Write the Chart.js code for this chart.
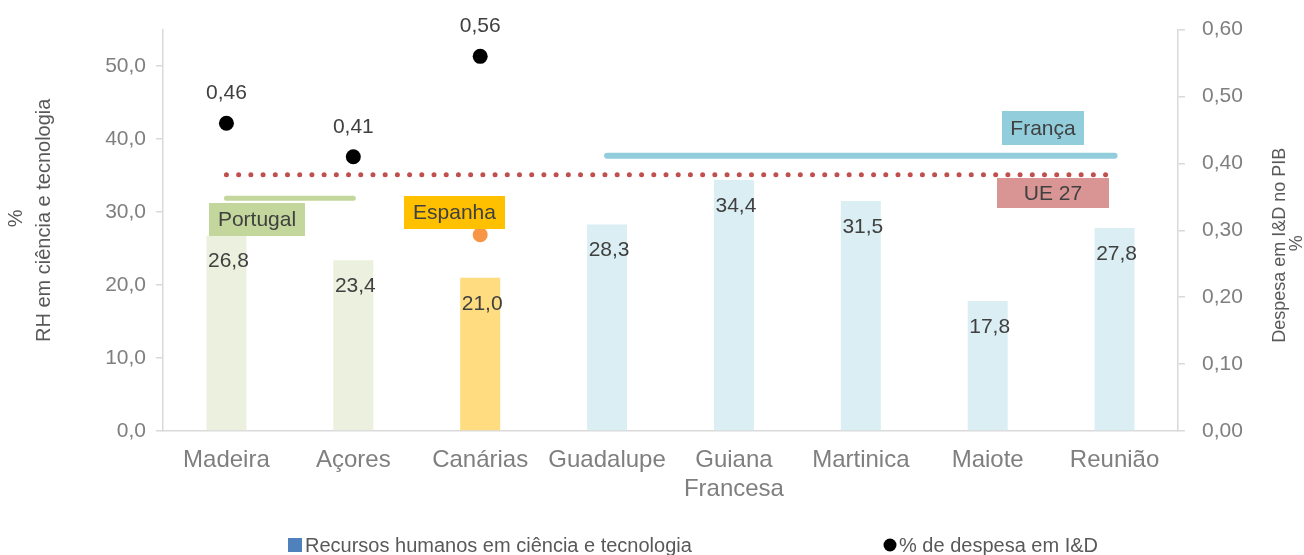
<!DOCTYPE html>
<html>
<head>
<meta charset="utf-8">
<script src="https://cdn.jsdelivr.net/npm/chart.js@4/dist/chart.umd.min.js"></script>
<style>
  html, body { margin: 0; padding: 0; background: #fff; }
  #wrap { width: 1304px; height: 555px; }
</style>
</head>
<body>
<div id="wrap"><canvas id="chart" width="1304" height="555"></canvas></div>
<script>
// data
const categories = [['Madeira'], ['Açores'], ['Canárias'], ['Guadalupe'], ['Guiana', 'Francesa'], ['Martinica'], ['Maiote'], ['Reunião']];
const rhCienciaTec = [26.8, 23.4, 21.0, 28.3, 34.4, 31.5, 17.8, 27.8];
const despesaID = [0.46, 0.41, 0.56, null, null, null, null, null];
const refPortugal = [31.9, 31.9, null, null, null, null, null, null];
const refEspanha = [null, null, 26.9, null, null, null, null, null];
const refFranca = [null, null, null, 37.7, 37.7, 37.7, 37.7, 37.7];
const refUE27 = [35.1, 35.1, 35.1, 35.1, 35.1, 35.1, 35.1, 35.1];
const leftTicks = [0, 10, 20, 30, 40, 50];
const rightTicks = [0, 0.1, 0.2, 0.3, 0.4, 0.5, 0.6];

const barColors = ['#EBF1DE', '#EBF1DE', '#FFDC7F', '#DAEEF3', '#DAEEF3', '#DAEEF3', '#DAEEF3', '#DAEEF3'];
const FONT = '"Liberation Sans", Arial, sans-serif';
const comma = (v, d) => v.toFixed(d).replace('.', ',');

// text boxes next to the reference lines
const refBoxes = [
  { text: 'Portugal', fill: '#C3D69B', x: 209, y: 203, w: 96, h: 33 },
  { text: 'Espanha', fill: '#FFC000', x: 404, y: 196, w: 101, h: 33 },
  { text: 'França', fill: '#92CDDC', x: 1002, y: 111, w: 82, h: 34 },
  { text: 'UE 27', fill: '#D99594', x: 997, y: 178, w: 112, h: 30 }
];

const overlay = {
  id: 'overlay',
  afterDatasetsDraw(chart) {
    const ctx = chart.ctx;
    const area = chart.chartArea;
    ctx.save();

    // bar values, just inside the top
    ctx.font = '21px ' + FONT;
    ctx.fillStyle = '#404040';
    ctx.textAlign = 'center';
    ctx.textBaseline = 'middle';
    chart.getDatasetMeta(0).data.forEach((bar, i) => {
      ctx.fillText(comma(rhCienciaTec[i], 1), bar.x + 2, bar.y + 26);
    });

    // R&D values above the dots
    chart.getDatasetMeta(5).data.forEach((pt, i) => {
      if (despesaID[i] == null) return;
      ctx.fillText(comma(despesaID[i], 2), pt.x, pt.y - 30);
    });

    // reference boxes
    refBoxes.forEach(b => {
      ctx.fillStyle = b.fill;
      ctx.fillRect(b.x, b.y, b.w, b.h);
      ctx.fillStyle = '#404040';
      ctx.fillText(b.text, b.x + b.w / 2, b.y + b.h / 2 + 1);
    });

    // axis titles
    const midY = (area.top + area.bottom) / 2;
    ctx.fillStyle = '#595959';
    ctx.font = '20px ' + FONT;
    ctx.save();
    ctx.translate(16, midY - 12);
    ctx.rotate(-Math.PI / 2);
    ctx.fillText('%', 0, 0);
    ctx.restore();
    ctx.save();
    ctx.translate(44, midY - 10);
    ctx.rotate(-Math.PI / 2);
    ctx.fillText('RH em ciência e tecnologia', 0, 0);
    ctx.restore();

    ctx.font = '18px ' + FONT;
    ctx.save();
    ctx.translate(1280, midY + 15);
    ctx.rotate(-Math.PI / 2);
    ctx.fillText('Despesa em I&D no PIB', 0, 0);
    ctx.restore();
    ctx.save();
    ctx.translate(1297, midY + 13);
    ctx.rotate(-Math.PI / 2);
    ctx.fillText('%', 0, 0);
    ctx.restore();

    // legend
    ctx.font = '20px ' + FONT;
    ctx.textAlign = 'left';
    ctx.textBaseline = 'alphabetic';
    ctx.fillStyle = '#4F81BD';
    ctx.fillRect(288, 538, 14, 14);
    ctx.fillStyle = '#595959';
    ctx.fillText('Recursos humanos em ciência e tecnologia', 305, 552);
    ctx.fillStyle = '#000000';
    ctx.beginPath();
    ctx.arc(890, 545, 6.5, 0, Math.PI * 2);
    ctx.fill();
    ctx.fillStyle = '#595959';
    ctx.fillText('% de despesa em I&D', 899, 552);

    ctx.restore();
  }
};

const refLine = (data, color, width, extra) => Object.assign({
  type: 'line',
  data: data,
  yAxisID: 'y',
  borderColor: color,
  borderWidth: width,
  borderCapStyle: 'round',
  pointRadius: 0,
  pointHoverRadius: 0,
  fill: false,
  spanGaps: false
}, extra || {});

new Chart(document.getElementById('chart'), {
  type: 'bar',
  data: {
    labels: categories,
    datasets: [
      {
        label: 'Recursos humanos em ciência e tecnologia',
        data: rhCienciaTec,
        yAxisID: 'y',
        backgroundColor: barColors,
        barPercentage: 0.63,
        categoryPercentage: 0.5,
        order: 10
      },
      refLine(refUE27, '#C0504D', 5, { borderDash: [0.01, 12.2], order: 4 }),
      refLine(refPortugal, '#C3D69B', 5, { order: 3 }),
      refLine(refFranca, '#92CDDC', 6, { order: 3 }),
      refLine(refEspanha, '#F79646', 0, {
        showLine: false, pointRadius: 7.5, pointBackgroundColor: '#F79646',
        pointBorderWidth: 0, order: 2
      }),
      {
        type: 'line',
        label: '% de despesa em I&D',
        data: despesaID,
        yAxisID: 'y1',
        showLine: false,
        pointRadius: 7.5,
        pointBackgroundColor: '#000000',
        pointBorderWidth: 0,
        order: 1
      }
    ]
  },
  options: {
    responsive: false,
    animation: false,
    devicePixelRatio: 1,
    layout: { padding: { top: 27, left: 0, right: 0, bottom: 0 } },
    plugins: {
      legend: { display: false },
      tooltip: { enabled: false }
    },
    scales: {
      x: {
        grid: { display: true, drawOnChartArea: false, drawTicks: false },
        border: { color: '#D9D9D9', width: 1.5 },
        ticks: { color: '#7F7F7F', font: { family: FONT, size: 24 }, padding: 15, maxRotation: 0, autoSkip: false },
        afterFit(scale) { scale.height = 124; }
      },
      y: {
        position: 'left',
        min: 0,
        max: 55,
        afterBuildTicks(scale) { scale.ticks = leftTicks.map(v => ({ value: v })); },
        grid: { drawOnChartArea: false, drawTicks: true, tickLength: 7, color: '#D9D9D9', lineWidth: 1.5 },
        border: { color: '#D9D9D9', width: 1.5 },
        ticks: { color: '#7F7F7F', font: { family: FONT, size: 21 }, padding: 10, callback: v => comma(v, 1) },
        afterFit(scale) { scale.width = 163; }
      },
      y1: {
        position: 'right',
        min: 0,
        max: 0.6,
        afterBuildTicks(scale) { scale.ticks = rightTicks.map(v => ({ value: v })); },
        grid: { drawOnChartArea: false, drawTicks: true, tickLength: 7, color: '#D9D9D9', lineWidth: 1.5 },
        border: { color: '#D9D9D9', width: 1.5 },
        ticks: { color: '#7F7F7F', font: { family: FONT, size: 21 }, padding: 17, callback: v => comma(v, 2) },
        afterFit(scale) { scale.width = 126; }
      }
    }
  },
  plugins: [overlay]
});
</script>
</body>
</html>
